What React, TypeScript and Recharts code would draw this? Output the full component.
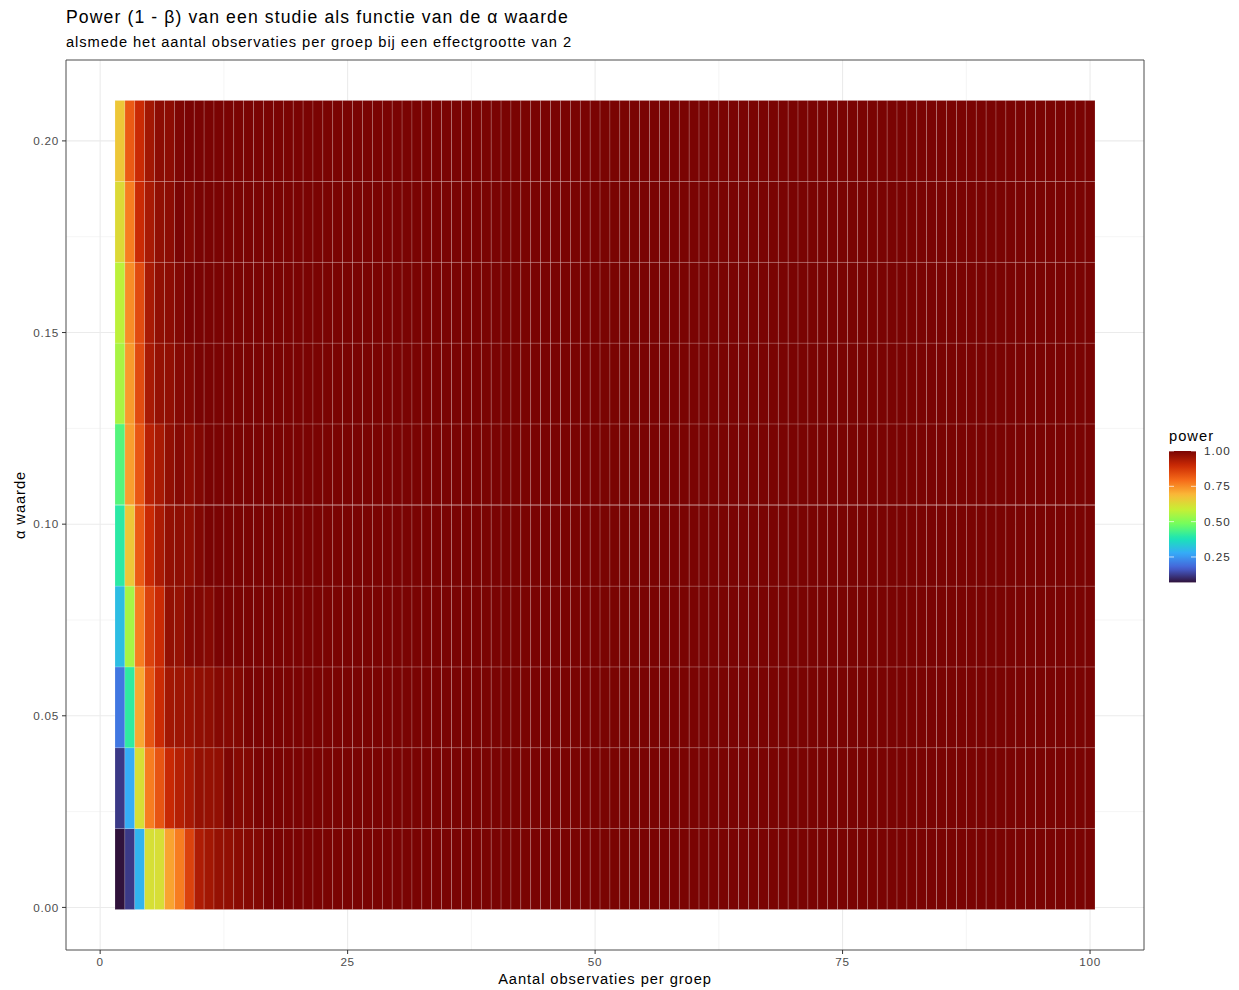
import React from 'react'
import { ScatterChart, Scatter, XAxis, YAxis, CartesianGrid, ReferenceArea, Legend } from 'recharts'

// alpha levels (rows of the heatmap)
const alphaValues = [0.01, 0.0311, 0.0522, 0.0733, 0.0944, 0.1156, 0.1367, 0.1578, 0.1789, 0.2]

// observations per group run from 2 to 100
const nFirst = 2
const nLast = 100

// power read per row for n = 2, 3, 4, ... ; past the listed values every tile reads as 1.00
const powerAlpha010 = [0.07, 0.12, 0.294, 0.617, 0.62, 0.72, 0.77, 0.859, 0.934, 0.949, 0.965, 0.971, 0.98, 0.986, 0.99]
const powerAlpha031 = [0.12, 0.282, 0.617, 0.77, 0.829, 0.9, 0.925, 0.943, 0.965, 0.965, 0.971, 0.995, 0.986, 0.99]
const powerAlpha052 = [0.203, 0.405, 0.715, 0.829, 0.898, 0.949, 0.955, 0.962, 0.971, 0.974, 0.986, 0.986, 0.99]
const powerAlpha073 = [0.311, 0.545, 0.77, 0.859, 0.898, 0.968, 0.965, 0.986, 0.99, 0.986]
const powerAlpha094 = [0.4, 0.664, 0.82, 0.898, 0.937, 0.968, 0.974, 0.974, 0.99]
const powerAlpha116 = [0.448, 0.725, 0.825, 0.92, 0.941, 0.971, 0.986, 0.977, 0.99]
const powerAlpha137 = [0.549, 0.731, 0.845, 0.941, 0.965, 0.971, 0.986, 0.99]
const powerAlpha158 = [0.573, 0.749, 0.845, 0.941, 0.971, 0.977, 0.99]
const powerAlpha179 = [0.63, 0.77, 0.898, 0.941, 0.971, 0.977, 1.0, 0.99]
const powerAlpha200 = [0.664, 0.82, 0.898, 0.949, 0.977, 0.977, 0.995]
const fullPower = 1.0

const powerRows = [
  powerAlpha010, powerAlpha031, powerAlpha052, powerAlpha073, powerAlpha094,
  powerAlpha116, powerAlpha137, powerAlpha158, powerAlpha179, powerAlpha200,
]

const xTicks = [0, 25, 50, 75, 100]
const xMinor = [12.5, 37.5, 62.5, 87.5]
const yTicks = [0, 0.05, 0.1, 0.15, 0.2]
const yMinor = [0.025, 0.075, 0.125, 0.175]
const legendTicks = [0.25, 0.5, 0.75, 1.0]

// viridis "turbo"
const turboStops = ['#30123B', '#4662D7', '#36AAF9', '#1AE4B6', '#72FE5E', '#C7EF34', '#FABA39', '#F66B19', '#CB2A04', '#7A0403']

function hexToRgb(h: string) {
  return [parseInt(h.slice(1, 3), 16), parseInt(h.slice(3, 5), 16), parseInt(h.slice(5, 7), 16)]
}

function turbo(t: number) {
  const c = Math.max(0, Math.min(1, t)) * (turboStops.length - 1)
  const i = Math.min(Math.floor(c), turboStops.length - 2)
  const f = c - i
  const a = hexToRgb(turboStops[i])
  const b = hexToRgb(turboStops[i + 1])
  const mix = a.map((v, k) => Math.round(v + (b[k] - v) * f))
  return `rgb(${mix[0]},${mix[1]},${mix[2]})`
}

const tiles: { n: number; alpha: number; power: number }[] = []
alphaValues.forEach((alpha, row) => {
  const lead = powerRows[row]
  for (let n = nFirst; n <= nLast; n++) {
    const i = n - nFirst
    tiles.push({ n, alpha, power: i < lead.length ? lead[i] : fullPower })
  }
})

const pMin = Math.min(...tiles.map(d => d.power))
const pMax = Math.max(...tiles.map(d => d.power))
const fillFor = (p: number) => turbo((p - pMin) / (pMax - pMin))

// layout
const W = 1239
const H = 990
const margin = { top: 60, right: 95, bottom: 6, left: 26 }
const yAxisWidth = 40
const xAxisHeight = 34
const plotW = W - margin.left - margin.right - yAxisWidth
const plotH = H - margin.top - margin.bottom - xAxisHeight
const xDomain = [-3.45, 105.45]
const yDomain = [-0.01111, 0.22111]
const alphaStep = 0.0211
const tileW = plotW / (xDomain[1] - xDomain[0])
const tileH = (plotH / (yDomain[1] - yDomain[0])) * alphaStep

const font = '"Liberation Sans", Arial, Helvetica, sans-serif'
const spacing = '0.063em'
const tickStyle = { fontSize: 11.7, fill: '#4D4D4D', fontFamily: font, letterSpacing: spacing }

const Tile = (props: any) => {
  const { cx, cy, payload } = props
  return (
    <rect
      x={cx - tileW / 2}
      y={cy - tileH / 2}
      width={tileW}
      height={tileH}
      fill={fillFor(payload.power)}
      stroke="#ffffff"
      strokeOpacity={0.28}
      strokeWidth={0.6}
    />
  )
}

const ColorBar = () => {
  const barX = 9
  const barY = 26
  const barW = 27
  const pxPerUnit = 141.3
  const barH = (pMax - pMin) * pxPerUnit
  const stops = Array.from({ length: 41 }, (_, i) => i / 40)
  return (
    <svg width={79} height={180} style={{ display: 'block', fontFamily: font, letterSpacing: spacing }}>
      <defs>
        <linearGradient id="powerGrad" x1="0" y1="1" x2="0" y2="0">
          {stops.map(s => (
            <stop key={s} offset={s} stopColor={turbo(s)} />
          ))}
        </linearGradient>
      </defs>
      <text x={barX} y={16} fontSize={14.7} fill="#000">power</text>
      <rect x={barX} y={barY} width={barW} height={barH} fill="url(#powerGrad)" />
      {legendTicks.map(v => {
        const y = barY + (pMax - v) * pxPerUnit
        return (
          <g key={v}>
            <line x1={barX} x2={barX + 5} y1={y} y2={y} stroke="#fff" strokeOpacity={0.7} />
            <line x1={barX + barW - 5} x2={barX + barW} y1={y} y2={y} stroke="#fff" strokeOpacity={0.7} />
            <text x={barX + barW + 8} y={y} dy="0.35em" fontSize={11.7} fill="#333">{v.toFixed(2)}</text>
          </g>
        )
      })}
    </svg>
  )
}

export default function App() {
  return (
    <div style={{ position: 'absolute', left: 0, top: 0, width: W, height: H, fontFamily: font, background: '#fff' }}>
      <div style={{ position: 'absolute', left: 66, top: 9, fontSize: 17.6, lineHeight: 1, color: '#000', whiteSpace: 'nowrap', letterSpacing: spacing }}>
        Power (1 - β) van een studie als functie van de α waarde
      </div>
      <div style={{ position: 'absolute', left: 66, top: 34.6, fontSize: 14.7, lineHeight: 1, color: '#000', whiteSpace: 'nowrap', letterSpacing: spacing }}>
        alsmede het aantal observaties per groep bij een effectgrootte van 2
      </div>
      <ScatterChart width={W} height={H} margin={margin} style={{ fontFamily: font }}>
        <CartesianGrid stroke="#EBEBEB" strokeWidth={0.55} horizontalValues={yMinor} verticalValues={xMinor} />
        <CartesianGrid stroke="#EBEBEB" strokeWidth={1.07} horizontalValues={yTicks} verticalValues={xTicks} />
        <XAxis
          type="number"
          dataKey="n"
          domain={xDomain}
          ticks={xTicks}
          allowDataOverflow
          height={xAxisHeight}
          axisLine={false}
          tickLine={{ stroke: '#333333' }}
          tickSize={4}
          tickMargin={4}
          tick={tickStyle}
          label={{ value: 'Aantal observaties per groep', position: 'insideBottom', offset: 0, style: { fontSize: 14.7, fill: '#000', fontFamily: font, letterSpacing: spacing } }}
        />
        <YAxis
          type="number"
          dataKey="alpha"
          domain={yDomain}
          ticks={yTicks}
          allowDataOverflow
          width={yAxisWidth}
          axisLine={false}
          tickLine={{ stroke: '#333333' }}
          tickSize={4}
          tickMargin={3}
          tick={tickStyle}
          tickFormatter={(v: number) => v.toFixed(2)}
          label={{ value: 'α waarde', angle: -90, position: 'insideLeft', offset: -6, style: { textAnchor: 'middle', fontSize: 14.7, fill: '#000', fontFamily: font, letterSpacing: spacing } }}
        />
        <Scatter data={tiles} shape={Tile} isAnimationActive={false} />
        <ReferenceArea
          x1={xDomain[0]}
          x2={xDomain[1]}
          y1={yDomain[0]}
          y2={yDomain[1]}
          fill="none"
          fillOpacity={0}
          stroke="#4D4D4D"
          strokeWidth={1}
          ifOverflow="visible"
        />
        <Legend
          layout="horizontal"
          align="center"
          verticalAlign="middle"
          content={() => <ColorBar />}
          wrapperStyle={{ left: 1160, top: 425, width: 79, height: 180 }}
        />
      </ScatterChart>
    </div>
  )
}
